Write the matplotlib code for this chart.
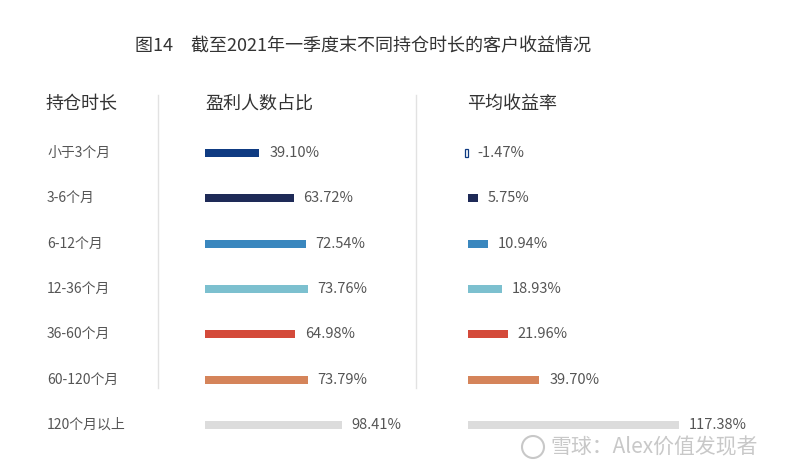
import matplotlib.pyplot as plt
import matplotlib.transforms as mtransforms
from matplotlib.patches import Ellipse

plt.rcParams['font.family'] = ['Noto Sans CJK SC', 'DejaVu Sans']

# data
periods = ['小于3个月', '3-6个月', '6-12个月', '12-36个月', '36-60个月', '60-120个月', '120个月以上']
profit_share = [39.10, 63.72, 72.54, 73.76, 64.98, 73.79, 98.41]
avg_return = [-1.47, 5.75, 10.94, 18.93, 21.96, 39.70, 117.38]
colors = ['#0f3b82', '#1e2a57', '#3a87be', '#7cc0cf', '#d44a3a', '#d5845a', '#dcdcdc']

title = '图14　截至2021年一季度末不同持仓时长的客户收益情况'
headers = ['持仓时长', '盈利人数占比', '平均收益率']

W, H = 800, 473
fig = plt.figure(figsize=(W / 100, H / 100), dpi=100)
fig.patch.set_facecolor('white')

row_top, row_step = 153, 45.33
n = len(periods)
ax_top = row_top - row_step / 2
ax_h = row_step * n
bottom = 1 - (ax_top + ax_h) / H

# left panel: 100% -> 139 px
ax1 = fig.add_axes([205 / W, bottom, 139.2 / W, ax_h / H])
# right panel: 1% -> 1.8 px
ax2 = fig.add_axes([468 / W, bottom, 216 / W, ax_h / H])

txt_color = '#555555'
for ax, vals, xmax in [(ax1, profit_share, 100), (ax2, avg_return, 120)]:
    ax.set_xlim(0, xmax)
    ax.set_ylim(n - 0.5, -0.5)
    ax.axis('off')
    for i, v in enumerate(vals):
        if v < 0:
            ax.barh(i, v, height=0.17, color='white', edgecolor=colors[0],
                    linewidth=0.9, clip_on=False)
        else:
            ax.barh(i, v, height=0.18, color=colors[i], clip_on=False)
        ax.annotate(f'{v:.2f}%', xy=(max(v, 0), i), xytext=(7, 0),
                    textcoords='offset points', va='center', ha='left',
                    fontsize=10.5, color=txt_color, fontweight='light')

# row labels
trans = mtransforms.blended_transform_factory(fig.transFigure, ax1.transData)
for i, p in enumerate(periods):
    ax1.text(47 / W, i, p, transform=trans, va='center', ha='left',
             fontsize=10, color=txt_color, fontweight='light')

# headers and title
fig.text(363 / W, 1 - 46 / H, title, ha='center', va='center', fontsize=13, color='#333333')
for x, h in zip([46, 205, 467], headers):
    fig.text(x / W, 1 - 104 / H, h, ha='left', va='center', fontsize=13, color='#333333')

# separators
for x in [158, 416]:
    fig.add_artist(plt.Line2D([x / W, x / W], [1 - 95 / H, 1 - 388 / H],
                              transform=fig.transFigure, color='#e2e2e2', lw=1))

# watermark
fig.add_artist(Ellipse((533 / W, 1 - 447 / H), 22 / W, 22 / H, transform=fig.transFigure,
                       fill=False, edgecolor='#c8c8c8', lw=1.5))
fig.text(550 / W, 1 - 447 / H, '雪球：Alex价值发现者', ha='left', va='center',
         fontsize=15, color='#c8c8c8')

fig.savefig('out.png', dpi=100)
